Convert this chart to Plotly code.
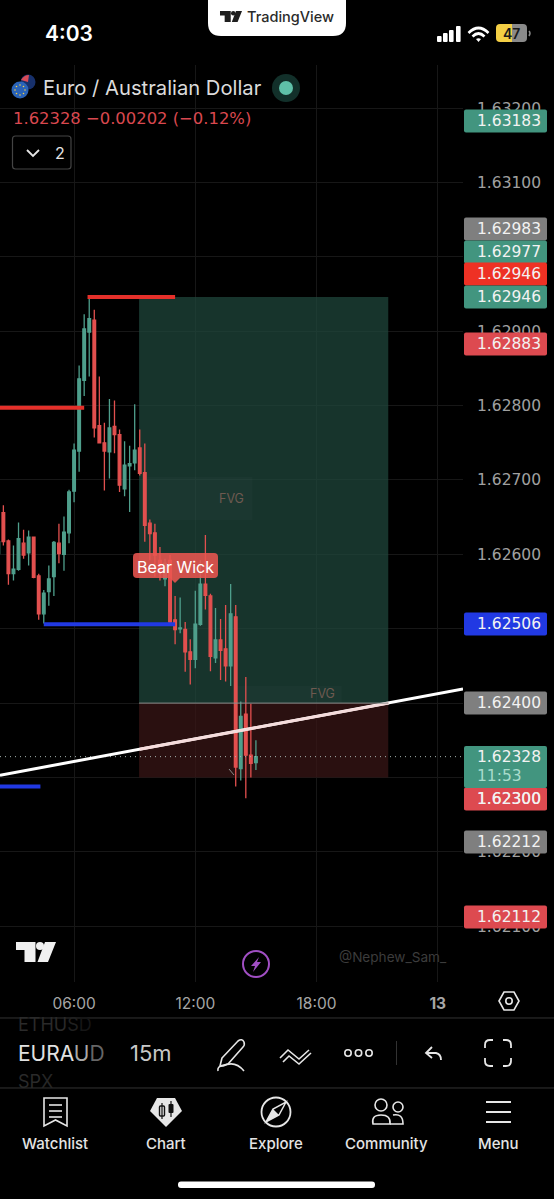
import re
import pandas as pd
import plotly.graph_objects as go

W, H = 554, 1199
FONT = "Inter"
NUM = "DejaVu Sans"

# --- data: 15-minute EURAUD candles
start_time = "2025-06-12 02:15"
opens = [1.62601,1.62656,1.62618,1.62574,1.62580,1.62615,1.62602,1.62623,1.62571,1.62520,1.62550,1.62570,1.62615,
         1.62600,1.62629,1.62685,1.62739,1.62834,1.62899,1.62915,1.62773,1.62750,1.62738,1.62772,1.62761,1.62688,
         1.62719,1.62723,1.62743,1.62710,1.62642,1.62629,1.62592,1.62567,1.62592,1.62512,1.62500,1.62499,1.62469,
         1.62459,1.62506,1.62560,1.62544,1.62461,1.62485,1.62473,1.62450,1.62516,1.62312,1.62385,1.62330,1.62320]
highs = [1.62623,1.62666,1.62620,1.62612,1.62643,1.62633,1.62632,1.62624,1.62574,1.62552,1.62585,1.62618,1.62641,
         1.62651,1.62687,1.62749,1.62854,1.62923,1.62945,1.62929,1.62839,1.62777,1.62809,1.62807,1.62768,1.62752,
         1.62746,1.62802,1.62768,1.62749,1.62647,1.62641,1.62610,1.62594,1.62599,1.62544,1.62542,1.62509,1.62486,
         1.62551,1.62592,1.62626,1.62547,1.62528,1.62513,1.62532,1.62560,1.62532,1.62402,1.62435,1.62399,1.62350]
lows = [1.62597,1.62612,1.62559,1.62565,1.62578,1.62594,1.62585,1.62568,1.62512,1.62507,1.62531,1.62544,1.62588,
        1.62578,1.62615,1.62670,1.62711,1.62813,1.62839,1.62757,1.62749,1.62686,1.62702,1.62736,1.62684,1.62678,
        1.62657,1.62713,1.62706,1.62617,1.62592,1.62570,1.62565,1.62557,1.62507,1.62479,1.62494,1.62442,1.62425,
        1.62447,1.62504,1.62526,1.62443,1.62454,1.62431,1.62429,1.62423,1.62288,1.62296,1.62272,1.62300,1.62310]
closes = [1.62617,1.62617,1.62574,1.62580,1.62621,1.62599,1.62623,1.62569,1.62520,1.62548,1.62567,1.62616,1.62601,
          1.62630,1.62684,1.62740,1.62836,1.62903,1.62917,1.62770,1.62750,1.62739,1.62770,1.62761,1.62693,1.62720,
          1.62722,1.62740,1.62709,1.62639,1.62628,1.62599,1.62583,1.62588,1.62509,1.62499,1.62501,1.62469,1.62459,
          1.62506,1.62560,1.62545,1.62463,1.62485,1.62471,1.62450,1.62520,1.62314,1.62382,1.62330,1.62319,1.62328]
price_ticks = [1.632, 1.631, 1.630, 1.629, 1.628, 1.627, 1.626, 1.625, 1.624, 1.623, 1.622, 1.621]
time_tick_vals = ["2025-06-12 06:00", "2025-06-12 12:00", "2025-06-12 18:00", "2025-06-13 00:00"]
time_tick_text = ["06:00", "12:00", "18:00", "<b>13</b>"]
x_view = ["2025-06-12 02:20", "2025-06-13 01:15"]
y_view = [1.62025, 1.63258]
last_price = 1.62328
trend_times = ["2025-06-12 02:20", "2025-06-13 01:15"]
trend_prices = [1.62303, 1.62419]
trend_box_times = ["2025-06-12 09:15", "2025-06-12 21:35"]
trend_box_prices = [1.62338, 1.62400]
red_top_times = ["2025-06-12 06:40", "2025-06-12 11:00"]
red_top_price = 1.62946
red_mid_times = ["2025-06-12 02:20", "2025-06-12 06:30"]
red_mid_price = 1.62797
blue_mid_times = ["2025-06-12 04:30", "2025-06-12 11:00"]
blue_mid_price = 1.62506
blue_low_times = ["2025-06-12 02:20", "2025-06-12 04:20"]
blue_low_price = 1.62288
long_times = ["2025-06-12 09:13", "2025-06-12 21:33"]
long_target, long_entry, long_stop = 1.62946, 1.62400, 1.62300
fvg1_times, fvg1_prices = ["2025-06-12 09:30", "2025-06-12 14:50"], [1.62646, 1.62704]
fvg2_times, fvg2_prices = ["2025-06-12 14:00", "2025-06-12 19:15"], [1.62400, 1.62423]
price_tags = [("1.63183", 121, "#42957f"), ("1.62983", 229, "#7f7f7f"), ("1.62977", 252, "#42957f"),
              ("1.62946", 274, "#ee3124"), ("1.62946", 297, "#42957f"), ("1.62883", 344, "#dd4a50"),
              ("1.62506", 624, "#2139e3"), ("1.62400", 703, "#7f7f7f"), ("1.62300", 799, "#dd4a50"),
              ("1.62212", 842, "#7f7f7f"), ("1.62112", 917, "#dd4a50")]

times = pd.date_range(start_time, periods=len(opens), freq="15min")


def P(d):
    toks = re.findall(r"[MLQZ]|-?\d+\.?\d*", d)
    out, isx = [], True
    for t in toks:
        if t in "MLQZ":
            out.append(t)
            isx = True
        else:
            v = float(t)
            out.append(f"{v / W:.5f}," if isx else f"{1 - v / H:.5f}")
            isx = not isx
    return " ".join(out).replace(", ", ",")


shapes, annos = [], []


def path(d, fill=None, line=None, w=0, op=1, layer="above"):
    s = dict(type="path", path=P(d), xref="paper", yref="paper", layer=layer, opacity=op,
             line=dict(width=w, color=line or "rgba(0,0,0,0)"))
    if fill:
        s["fillcolor"] = fill
    shapes.append(s)


def rrect(x0, y0, x1, y1, r, fill=None, line=None, w=0, op=1, corners="all"):
    tl = tr = br = bl = r
    if corners == "left":
        tr = br = 0
    if corners == "right":
        tl = bl = 0
    path(f"M {x0+tl} {y0} L {x1-tr} {y0} Q {x1} {y0} {x1} {y0+tr} L {x1} {y1-br} Q {x1} {y1} {x1-br} {y1} "
         f"L {x0+bl} {y1} Q {x0} {y1} {x0} {y1-bl} L {x0} {y0+tl} Q {x0} {y0} {x0+tl} {y0} Z", fill, line, w, op)


def circle(cx, cy, r, fill=None, line=None, w=0, op=1):
    s = dict(type="circle", xref="paper", yref="paper", x0=(cx - r) / W, x1=(cx + r) / W,
             y0=1 - (cy + r) / H, y1=1 - (cy - r) / H, opacity=op, layer="above",
             line=dict(width=w, color=line or "rgba(0,0,0,0)"))
    if fill:
        s["fillcolor"] = fill
    shapes.append(s)


def txt(x, y, text, size, color, anchor="center", weight=None, font=FONT):
    f = dict(size=size, color=color, family=font)
    if weight:
        f["weight"] = weight
    annos.append(dict(x=x / W, y=1 - y / H, xref="paper", yref="paper", text=text, showarrow=False,
                      xanchor=anchor, yanchor="middle", font=f, borderpad=0))


def tv_logo(x, y, s, color):
    path(f"M {x} {y} L {x+19.5*s} {y} L {x+19.5*s} {y+20*s} L {x+8.5*s} {y+20*s} L {x+8.5*s} {y+8*s} L {x} {y+8*s} Z", color)
    circle(x + 24 * s, y + 4 * s, 4 * s, color)
    path(f"M {x+29*s} {y} L {x+40*s} {y} L {x+32*s} {y+20*s} L {x+21.5*s} {y+20*s} Z", color)


fig = go.Figure()

line_kw = dict(mode="lines", hoverinfo="skip", showlegend=False)
fig.add_trace(go.Scatter(x=[x_view[0], x_view[1]], y=[last_price, last_price],
                         line=dict(color="#a7b5b0", width=1, dash="1px,4px"), **line_kw))
fig.add_trace(go.Scatter(x=trend_times, y=trend_prices, line=dict(color="#ffffff", width=3), **line_kw))
fig.add_trace(go.Scatter(x=trend_box_times, y=trend_box_prices, line=dict(color="#f6dcdc", width=3), **line_kw))
fig.add_trace(go.Scatter(x=long_times, y=[long_entry, long_entry], line=dict(color="#8b8f8d", width=1), **line_kw))
thick = dict(width=4)
fig.add_trace(go.Scatter(x=red_top_times, y=[red_top_price] * 2, line=dict(color="#e5302a", **thick), **line_kw))
fig.add_trace(go.Scatter(x=red_mid_times, y=[red_mid_price] * 2, line=dict(color="#e5302a", **thick), **line_kw))
fig.add_trace(go.Scatter(x=blue_mid_times, y=[blue_mid_price] * 2, line=dict(color="#2139e3", **thick), **line_kw))
fig.add_trace(go.Scatter(x=blue_low_times, y=[blue_low_price] * 2, line=dict(color="#2139e3", **thick), **line_kw))
fig.add_trace(go.Candlestick(
    x=times, open=opens, high=highs, low=lows, close=closes, hoverinfo="skip", showlegend=False, whiskerwidth=0,
    increasing=dict(line=dict(color="#4f9f8c", width=1.3), fillcolor="#4f9f8c"),
    decreasing=dict(line=dict(color="#e2504f", width=1.3), fillcolor="#e2504f")))

for (tt, lo, hi, col) in [(long_times, long_entry, long_target, "rgba(33,74,63,0.70)"),
                          (long_times, long_stop, long_entry, "rgba(58,22,22,0.73)"),
                          (fvg1_times, fvg1_prices[0], fvg1_prices[1], "rgba(255,255,255,0.02)"),
                          (fvg2_times, fvg2_prices[0], fvg2_prices[1], "rgba(255,255,255,0.02)")]:
    shapes.append(dict(type="rect", xref="x", yref="y", x0=tt[0], x1=tt[1], y0=lo, y1=hi,
                       fillcolor=col, line=dict(width=0), layer="between"))

txt(231, 498, "FVG", 12.5, "#6e5a50")
txt(322, 693, "FVG", 12.5, "#6e5a50")

rrect(133, 553, 218, 578, 4, "#ea5550", op=0.88)
path("M 170 578 L 180 578 L 175 583 Z", "#ea5550", op=0.88)
txt(175.5, 567, "Bear Wick", 16, "#ffffff")
path("M 229 769 L 234 775", None, "#8a8a8a", 1)

TX0, TX1, TXL = 464, 547, 476
for label, yc, col in price_tags:
    rrect(TX0, yc - 11.5, TX1, yc + 11.5, 2, col)
    txt(TXL, yc, label, 15.5, "#f2f2f2", "left", font=NUM)
rrect(TX0, 746, TX1, 788, 2, "#42957f")
txt(TXL, 757, "1.62328", 15.5, "#f2f2f2", "left", font=NUM)
txt(TXL, 776, "11:53", 15.5, "#a9dccd", "left", font=NUM)
rrect(TX0, 788, TX1, 810, 2, "#dd4a50")
txt(TXL, 799, "1.62300", 15.5, "#f2f2f2", "left", font=NUM)

txt(69, 33, "4:03", 21, "#ffffff", weight=600)
rrect(208, -14, 346, 36, 13, "#ffffff")
tv_logo(220, 11, 0.55, "#1e1e1e")
txt(290, 17, "TradingView", 14.5, "#2a2a2a", weight=500)
for bx, top in [(437, 36), (443, 33), (449, 30), (456, 26)]:
    rrect(bx, top, bx + 4.6, 42, 1, "#ffffff")
path("M 468.5 33 Q 478.5 23 488.5 33", None, "#ffffff", 2.6)
path("M 472.5 36.5 Q 478.5 30.5 484.5 36.5", None, "#ffffff", 2.6)
path("M 476 39 Q 478.5 37.5 481 39 L 478.5 42 Z", "#ffffff")
rrect(496, 24, 512, 42, 4, "#f4cf45", corners="left")
rrect(512, 24, 527, 42, 4, "#8a8a8a", corners="right")
path("M 529 31 Q 531 33 529 36", None, "#8a8a8a", 1.5)
txt(511.5, 33, "47", 14, "#1a1a1a", weight=600)

circle(28, 82, 7.5, "#17306b")
path("M 21 80 Q 24 75 29 75 L 28 82 Z", "#d84b57")
circle(20, 90, 8.5, "#2a63b8")
for dx, dy in [(0, -5), (3.5, -3.5), (5, 0), (3.5, 3.5), (0, 5), (-3.5, 3.5), (-5, 0), (-3.5, -3.5)]:
    circle(20 + dx, 90 + dy, 0.8, "#f4cf45")
txt(42, 87, "Euro / Australian Dollar", 20.2, "#dcdcdc", "left")
circle(286, 88, 14, "#12302a")
circle(286, 88, 7, "#5fc0a8")
txt(12, 118, "1.62328 \u22120.00202 (\u22120.12%)", 16.4, "#d9484f", "left", font=NUM)
rrect(12.5, 136, 71, 169, 3, None, "#444444", 1.2)
path("M 27 150 L 33 156 L 39 150", None, "#e6e6e6", 1.8)
txt(60, 153, "2", 16, "#e6e6e6")

tv_logo(16, 942, 1.0, "#f0f0f0")
circle(256, 964, 13, None, "#a14fc4", 2)
path("M 259 957 L 251 966 L 255 966 L 253 972 L 261 962 L 257 962 Z", "#a14fc4")
txt(338, 957, "@Nephew_Sam_", 13.6, "#3c3c3c", "left")
path("M 499 1001 L 504 992 L 514 992 L 519 1001 L 514 1010 L 504 1010 Z", None, "#e6e6e6", 1.6)
circle(509, 1001, 3.2, None, "#e6e6e6", 1.6)

path("M 0 1018 L 554 1018", None, "#333333", 1)
path("M 0 1088 L 554 1088", None, "#333333", 1)
txt(17, 1024.5, 'ETHU<span style="color:#202020">S</span><span style="color:#161616">D</span>', 18, "#2a2a2a", "left")
txt(17, 1053, 'EURA<span style="color:#a8a8a8">U</span><span style="color:#666666">D</span>', 21, "#e2e2e2", "left")
txt(17, 1081, 'SP<span style="color:#262626">X</span>', 18, "#2a2a2a", "left")
txt(129, 1053, "15m", 22, "#c8c8c8", "left")
path("M 222 1058 L 238 1041 Q 242 1038 244 1042 Q 245 1045 243 1047 L 228 1064 L 220 1066 Z", None, "#e6e6e6", 1.6)
path("M 218 1071 Q 217 1066 223 1066 Q 235 1060 244 1071", None, "#e6e6e6", 1.6)
path("M 280 1058 L 288 1050 L 299 1059 L 309 1050", None, "#e6e6e6", 1.6)
path("M 283 1062 L 289 1056 L 299 1064 L 311 1053", None, "#e6e6e6", 1.6)
for cx in (348, 358.5, 369):
    circle(cx, 1053, 3.2, None, "#e6e6e6", 1.6)
path("M 396.5 1041 L 396.5 1065", None, "#333333", 1)
path("M 432 1047 L 426 1053 L 432 1058 M 426 1053 L 436 1053 Q 441 1054 441 1060", None, "#e6e6e6", 1.8)
for d in ("M 485 1048 L 485 1045 Q 485 1040 490 1040 L 493 1040", "M 503 1040 L 506 1040 Q 511 1040 511 1045 L 511 1048",
          "M 511 1058 L 511 1061 Q 511 1066 506 1066 L 503 1066", "M 493 1066 L 490 1066 Q 485 1066 485 1061 L 485 1058"):
    path(d, None, "#e6e6e6", 1.8)

path("M 44 1098 L 67 1098 L 67 1126 L 55.5 1120 L 44 1126 Z", None, "#e6e6e6", 1.6)
for yy in (1105, 1111, 1117):
    path(f"M 49 {yy} L 62 {yy}", None, "#e6e6e6", 1.6)
path("M 157 1098 L 175 1098 L 182 1111 L 166 1127 L 150 1111 Z", "#e6e6e6")
path("M 162 1103 L 162 1119 M 171 1101 L 171 1117", None, "#111111", 1.2)
rrect(159.5, 1106, 164.5, 1116, 1, None, "#111111", 1.4)
rrect(168.5, 1104, 173.5, 1113, 1, "#111111")
circle(276, 1112, 14.5, None, "#e6e6e6", 1.8)
path("M 286 1102 L 279 1115 L 266 1122 L 273 1109 Z", None, "#e6e6e6", 1.5)
path("M 279 1115 L 266 1122 L 273 1109 Z", "#e6e6e6")
circle(381, 1105, 6, None, "#e6e6e6", 1.6)
circle(398, 1107, 5, None, "#e6e6e6", 1.6)
path("M 373 1124 Q 371 1115 381 1115 Q 391 1115 390 1124 Z", None, "#e6e6e6", 1.6)
path("M 393 1115 Q 403 1113 403 1124 L 390 1124", None, "#e6e6e6", 1.6)
for yy in (1102, 1112, 1122):
    path(f"M 486 {yy} L 511 {yy}", None, "#e6e6e6", 2)
for label, cx in [("Watchlist", 55), ("Chart", 166), ("Explore", 276), ("Community", 386.5), ("Menu", 498)]:
    txt(cx, 1143, label, 15, "#e4e4e4", weight=500)
rrect(178, 1181.5, 375, 1188, 3, "#ffffff")

fig.update_layout(
    width=W, height=H, margin=dict(l=0, r=0, t=0, b=0, pad=0), showlegend=False,
    paper_bgcolor="#000000", plot_bgcolor="#000000", boxgap=0.25,
    shapes=shapes, annotations=annos, font=dict(family=FONT),
    xaxis=dict(type="date", domain=[0, 463 / W], range=x_view, tickmode="array", tickvals=time_tick_vals,
               ticktext=time_tick_text, showgrid=True, gridcolor="#171717", gridwidth=1, zeroline=False,
               showline=False, ticks="", rangeslider=dict(visible=False), ticklabelstandoff=10,
               tickfont=dict(size=15.5, color="#a6a6a6", family=FONT)),
    yaxis=dict(domain=[1 - 982 / H, 1 - 65 / H], range=y_view, side="right", tickmode="array", tickvals=price_ticks,
               ticktext=[f"{v:.5f}" for v in price_ticks], showgrid=True, gridcolor="#171717", gridwidth=1,
               zeroline=False, showline=False, ticks="", ticklabelstandoff=13,
               tickfont=dict(size=15.5, color="#a0a0a0", family=NUM)),
)

fig.write_html("out.html", config=dict(displayModeBar=False, staticPlot=True),
               post_script="document.body.style.margin='0';document.body.style.overflow='hidden';document.documentElement.style.background='#000';")
